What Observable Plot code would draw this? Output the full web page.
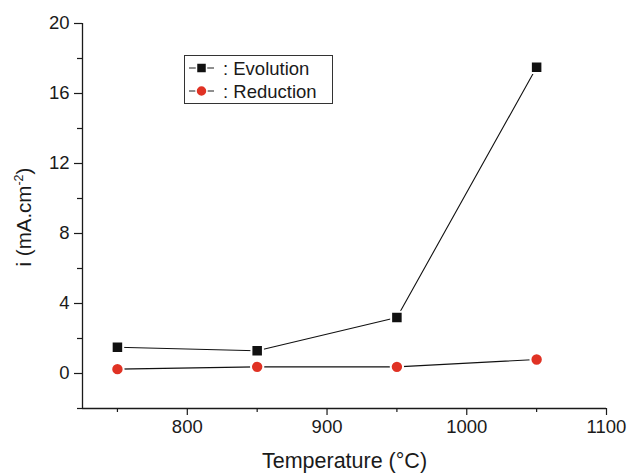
<!DOCTYPE html>
<html><head><meta charset="utf-8">
<script src="https://cdn.jsdelivr.net/npm/d3@7"></script>
<script src="https://cdn.jsdelivr.net/npm/@observablehq/plot@0.6"></script>
<style>body{margin:0;background:#fff;} #chart{position:relative;width:630px;height:474px;}</style>
</head><body><div id="chart"></div>
<script>
const temperatures = [750, 850, 950, 1050];
const evolution = [1.5, 1.3, 3.2, 17.5];
const reduction = [0.25, 0.38, 0.38, 0.8];
const xTicks = [800, 900, 1000, 1100];
const xMinor = [750, 850, 950, 1050];
const yTicks = [0, 4, 8, 12, 16, 20];
const yMinor = [-2, 2, 6, 10, 14, 18];

const evo = temperatures.map((t, i) => ({t, v: evolution[i]}));
const red = temperatures.map((t, i) => ({t, v: reduction[i]}));
const ink = "#1a1a1a";
const redC = "#e03224";

const plot = Plot.plot({
  width: 630, height: 474,
  marginLeft: 82, marginRight: 24, marginTop: 23, marginBottom: 66,
  style: {fontFamily: "'Liberation Sans', Arial, sans-serif", fontSize: "18px", color: ink, background: "#fff"},
  x: {domain: [725, 1100]},
  y: {domain: [-2, 20]},
  marks: [
    Plot.axisX({ticks: xTicks, tickSize: 7, tickPadding: 4, fontSize: 18.5, tickFormat: d3.format("d"), label: null, stroke: ink, strokeWidth: 1.2}),
    Plot.axisX({ticks: xMinor, tickSize: 4, tickFormat: () => "", label: null, stroke: ink, strokeWidth: 1.2}),
    Plot.axisY({ticks: yTicks, tickSize: 8, tickPadding: 5, fontSize: 18.5, label: null, stroke: ink, strokeWidth: 1.2}),
    Plot.axisY({ticks: yMinor, tickSize: 5, tickFormat: () => "", label: null, stroke: ink, strokeWidth: 1.2}),
    Plot.ruleX([725], {stroke: ink, strokeWidth: 1.3}),
    Plot.ruleY([-2], {stroke: ink, strokeWidth: 1.3}),
    Plot.line(evo, {x: "t", y: "v", stroke: "#111", strokeWidth: 1.1}),
    Plot.line(red, {x: "t", y: "v", stroke: "#111", strokeWidth: 1.1}),
    Plot.dot(evo, {x: "t", y: "v", symbol: "square", r: 6.5, fill: "#111", stroke: "#fff", strokeWidth: 2}),
    Plot.dot(red, {x: "t", y: "v", symbol: "circle", r: 6.2, fill: redC, stroke: "#fff", strokeWidth: 2}),
    Plot.text(["Temperature (°C)"], {frameAnchor: "bottom", dy: 59, lineAnchor: "bottom", fontSize: 21.5, fill: ink})
  ]
});
document.getElementById("chart").appendChild(plot);

const svg = d3.select(plot);
// y label with superscript
const yl = svg.append("text")
  .attr("transform", "translate(31,217) rotate(-90)")
  .attr("text-anchor", "middle")
  .attr("font-size", 20.5).attr("fill", ink);
yl.append("tspan").text("i (mA.cm");
yl.append("tspan").attr("font-size", 12.5).attr("dy", -8).text("-2");
yl.append("tspan").attr("dy", 8).text(")");

// legend
const lg = svg.append("g").attr("text-anchor", "start");
lg.append("rect").attr("x", 184.5).attr("y", 55.5).attr("width", 148).attr("height", 48)
  .attr("fill", "#fff").attr("stroke", "#333").attr("stroke-width", 1);
const rows = [{y: 68, label: ": Evolution", sym: "sq"}, {y: 91, label: ": Reduction", sym: "ci"}];
rows.forEach(r => {
  lg.append("line").attr("x1", 189).attr("x2", 214).attr("y1", r.y).attr("y2", r.y).attr("stroke", "#333").attr("stroke-width", 1.1);
  if (r.sym === "sq") lg.append("rect").attr("x", 196.5).attr("y", r.y - 5).attr("width", 10).attr("height", 10).attr("fill", "#111").attr("stroke", "#fff").attr("stroke-width", 1.5);
  else lg.append("circle").attr("cx", 201.5).attr("cy", r.y).attr("r", 5.5).attr("fill", redC).attr("stroke", "#fff").attr("stroke-width", 1.5);
  lg.append("text").attr("x", 223).attr("y", r.y + 6.5).attr("font-size", 18.5).attr("fill", ink).text(r.label);
});
</script></body></html>
